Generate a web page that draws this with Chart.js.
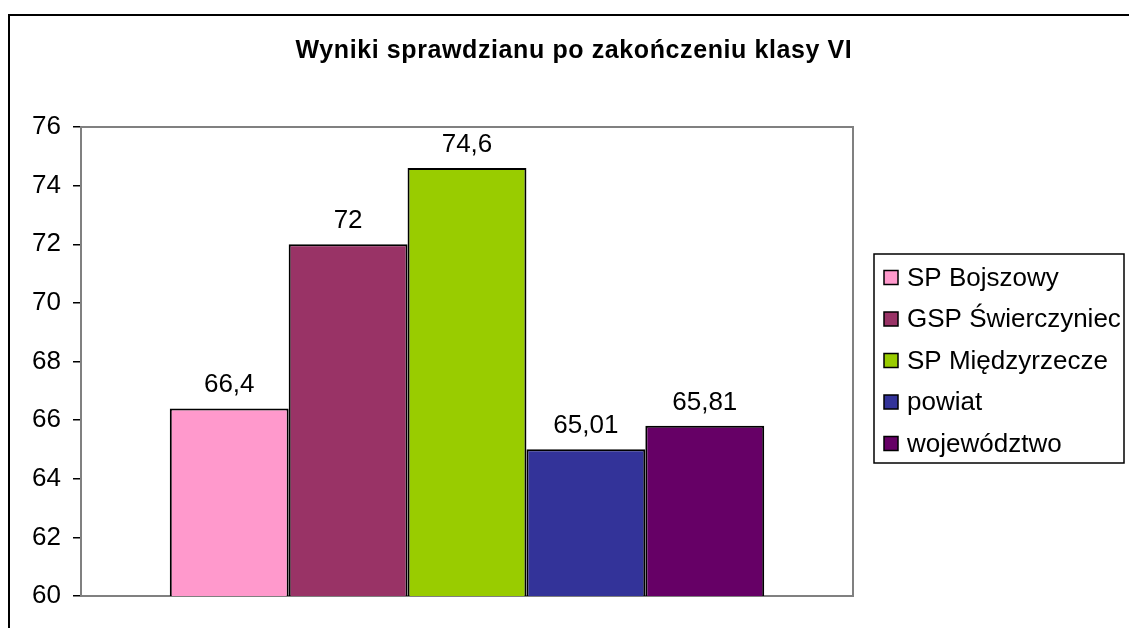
<!DOCTYPE html>
<html>
<head>
<meta charset="utf-8">
<script src="https://cdn.jsdelivr.net/npm/chart.js@4"></script>
<style>
  html, body { margin: 0; padding: 0; background: #fff; }
  #wrap { width: 1129px; height: 628px; }
</style>
</head>
<body>
<div id="wrap"><canvas id="chart" width="1129" height="628"></canvas></div>
<script>
const categories = [''];
const schools = ['SP Bojszowy', 'GSP Świerczyniec', 'SP Międzyrzecze', 'powiat', 'województwo'];
const results = [66.4, 72, 74.6, 65.01, 65.81];
const barColors = ['#FF99CC', '#993366', '#99CC00', '#333399', '#660066'];
const yTicks = [60, 62, 64, 66, 68, 70, 72, 74, 76];

const FONT = '"Liberation Sans", Arial, sans-serif';

// outer frame + title
const framePlugin = {
    id: 'frame',
    beforeDraw(chart) {
        const ctx = chart.ctx;
        ctx.save();
        ctx.fillStyle = '#fff';
        ctx.fillRect(0, 0, chart.width, chart.height);
        ctx.strokeStyle = '#000';
        ctx.lineWidth = 2;
        ctx.strokeRect(9, 15, 1200, 700);
        ctx.fillStyle = '#000';
        ctx.font = 'bold 25px ' + FONT;
        ctx.letterSpacing = '0.6px';
        ctx.textAlign = 'center';
        ctx.textBaseline = 'alphabetic';
        ctx.fillText('Wyniki sprawdzianu po zakończeniu klasy VI', 574, 58);
        ctx.restore();
    },
    beforeDatasetsDraw(chart) {
        const { ctx, chartArea: a } = chart;
        ctx.save();
        ctx.strokeStyle = '#808080';
        ctx.lineWidth = 2;
        ctx.strokeRect(a.left, a.top, a.right - a.left, a.bottom - a.top);
        ctx.restore();
    }
};

// value labels above the bars
const labelsPlugin = {
    id: 'valueLabels',
    afterDatasetsDraw(chart) {
        const ctx = chart.ctx;
        ctx.save();
        ctx.fillStyle = '#000';
        ctx.font = '26px ' + FONT;
        ctx.textAlign = 'center';
        ctx.textBaseline = 'alphabetic';
        chart.data.datasets.forEach((ds, i) => {
            chart.getDatasetMeta(i).data.forEach((bar, j) => {
                const txt = String(ds.data[j]).replace('.', ',');
                ctx.fillText(txt, bar.x, bar.y - 16);
            });
        });
        ctx.restore();
    }
};

// boxed legend on the right
const legendPlugin = {
    id: 'boxLegend',
    afterDraw(chart) {
        const ctx = chart.ctx;
        const left = 874, top = 254, right = 1124, bottom = 463;
        ctx.save();
        ctx.strokeStyle = '#000';
        ctx.lineWidth = 1.5;
        ctx.strokeRect(left, top, right - left, bottom - top);
        ctx.font = '26px ' + FONT;
        ctx.textBaseline = 'middle';
        ctx.textAlign = 'left';
        chart.data.datasets.forEach((ds, i) => {
            const cy = 277.5 + i * 41.5;
            ctx.fillStyle = ds.backgroundColor;
            ctx.fillRect(884, cy - 7, 14, 14);
            ctx.strokeStyle = '#000';
            ctx.lineWidth = 1.5;
            ctx.strokeRect(884, cy - 7, 14, 14);
            ctx.fillStyle = '#000';
            ctx.fillText(ds.label, 907, cy + 1);
        });
        ctx.restore();
    }
};

new Chart(document.getElementById('chart'), {
    type: 'bar',
    data: {
        labels: categories,
        datasets: schools.map((name, i) => ({
            label: name,
            data: [results[i]],
            backgroundColor: barColors[i],
            borderColor: '#000',
            borderWidth: 2,
            categoryPercentage: 0.77,
            barPercentage: 1
        }))
    },
    options: {
        responsive: false,
        animation: false,
        layout: { padding: { top: 127, bottom: 32, left: 0, right: 276 } },
        plugins: {
            legend: { display: false },
            title: { display: false },
            tooltip: { enabled: false }
        },
        scales: {
            x: { display: false },
            y: {
                min: 60,
                max: 76,
                afterFit: (s) => { s.width = 81; },
                afterBuildTicks: (s) => { s.ticks = yTicks.map(v => ({ value: v })); },
                ticks: {
                    color: '#000',
                    padding: 12,
                    font: { family: FONT, size: 26 }
                },
                grid: {
                    drawOnChartArea: false,
                    drawTicks: true,
                    tickLength: 8,
                    color: '#000',
                    lineWidth: 1.5
                },
                border: { color: '#000', width: 2 }
            }
        }
    },
    plugins: [framePlugin, labelsPlugin, legendPlugin]
});
</script>
</body>
</html>
